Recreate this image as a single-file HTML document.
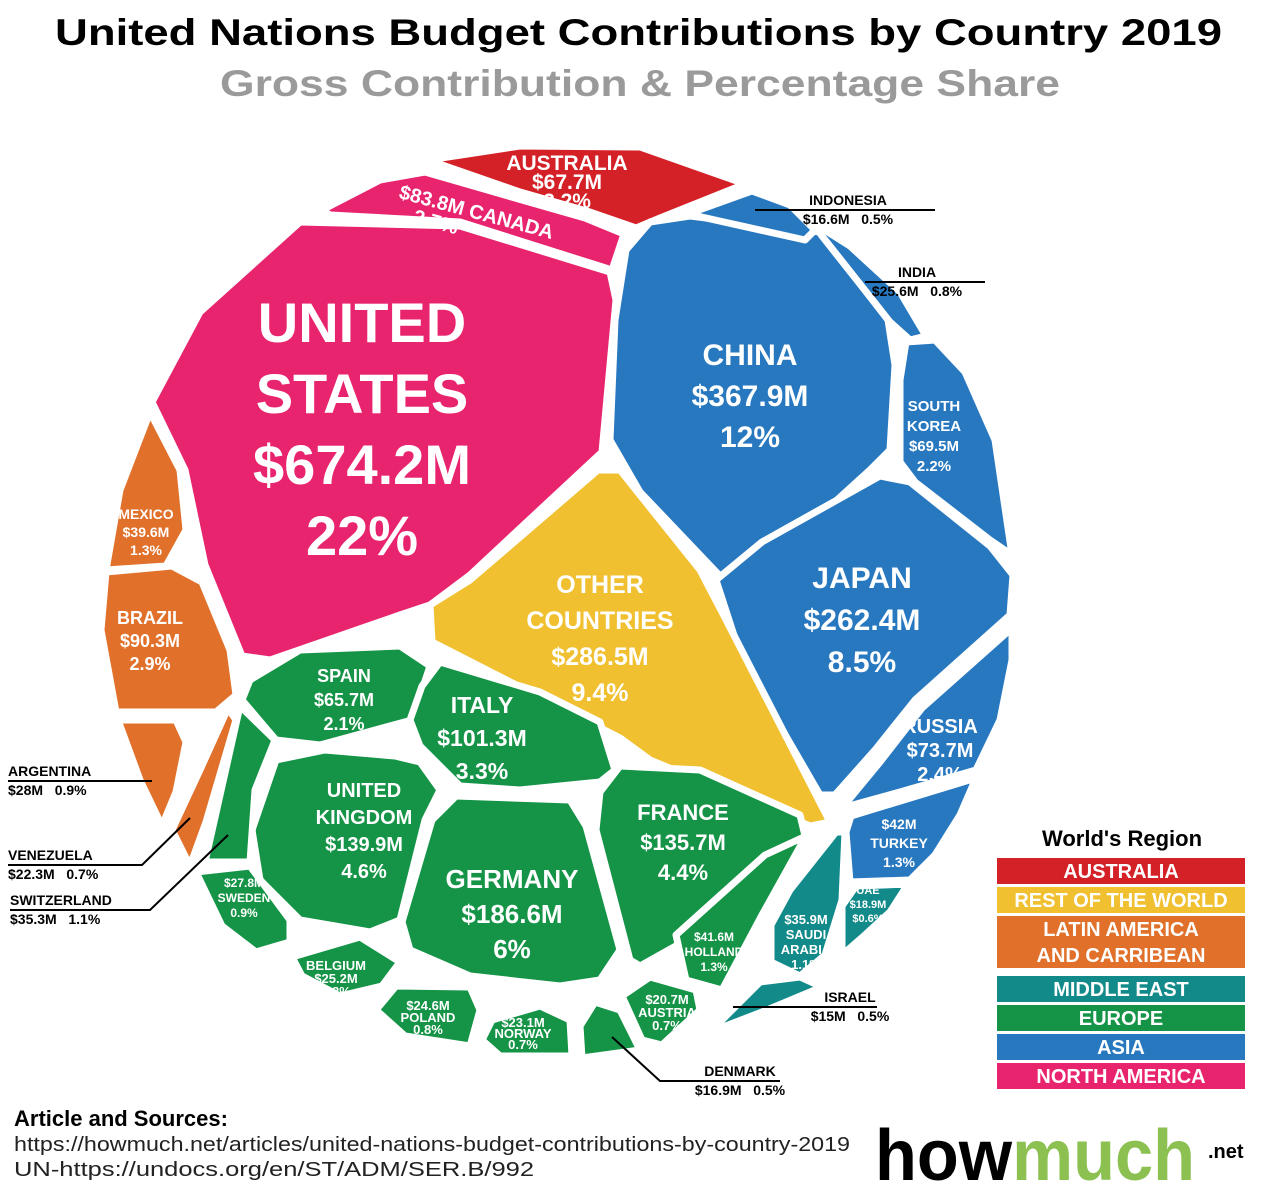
<!DOCTYPE html>
<html><head><meta charset="utf-8"><style>
body{margin:0;background:#fff;width:1280px;height:1197px;overflow:hidden;font-family:"Liberation Sans",sans-serif}
svg text{font-family:"Liberation Sans",sans-serif;font-weight:bold}
</style></head><body>
<svg id="chart" width="1280" height="1197" viewBox="0 0 1280 1197">
<text x="55" y="45" font-size="37" fill="#000" textLength="1167" lengthAdjust="spacingAndGlyphs">United Nations Budget Contributions by Country 2019</text>
<text x="220" y="96" font-size="37" fill="#9a9a9a" textLength="840" lengthAdjust="spacingAndGlyphs">Gross Contribution &amp; Percentage Share</text>
<g id="cells"></g><g id="labels"></g><g id="leaders"></g><g id="legend"></g>
<text x="14" y="1126" font-size="22" fill="#000">Article and Sources:</text>
<text x="14" y="1151" font-size="20" style="font-weight:normal" fill="#222" textLength="836" lengthAdjust="spacingAndGlyphs">https://howmuch.net/articles/united-nations-budget-contributions-by-country-2019</text>
<text x="14" y="1176" font-size="20" style="font-weight:normal" fill="#222" textLength="520" lengthAdjust="spacingAndGlyphs">UN-https://undocs.org/en/ST/ADM/SER.B/992</text>
<text x="875" y="1180" font-size="72" fill="#000" textLength="320" lengthAdjust="spacingAndGlyphs">how<tspan fill="#8cc152">much</tspan></text>
<text x="1208" y="1158" font-size="20" fill="#000">.net</text>
</svg>
<script>
const countries=["Australia","Canada","United States","China","Indonesia","India","South Korea","Japan","Russia","Other Countries","Spain","Italy","United Kingdom","Germany","France","Holland","Sweden","Switzerland","Belgium","Poland","Norway","Denmark","Austria","Saudi Arabia","UAE","Israel","Turkey","Mexico","Brazil","Argentina","Venezuela"];
const contributions=[67.7,83.8,674.2,367.9,16.6,25.6,69.5,262.4,73.7,286.5,65.7,101.3,139.9,186.6,135.7,41.6,27.8,35.3,25.2,24.6,23.1,16.9,20.7,35.9,18.9,15,42,39.6,90.3,28,22.3];
const shares=[2.2,2.7,22,12,0.5,0.8,2.2,8.5,2.4,9.4,2.1,3.3,4.6,6,4.4,1.3,0.9,1.1,0.8,0.8,0.7,0.5,0.7,1.1,0.6,0.5,1.3,1.3,2.9,0.9,0.7];
const regions=["AU","NA","NA","AS","AS","AS","AS","AS","AS","RW","EU","EU","EU","EU","EU","EU","EU","EU","EU","EU","EU","EU","EU","ME","ME","ME","AS","LA","LA","LA","LA"];
const legendLabels=["AUSTRALIA","REST OF THE WORLD","LATIN AMERICA|AND CARRIBEAN","MIDDLE EAST","EUROPE","ASIA","NORTH AMERICA"];
const legendKeys=["AU","RW","LA","ME","EU","AS","NA"];
const colors={AU:"#d42027",NA:"#e8246f",AS:"#2878c0",RW:"#f0c030",LA:"#e0702a",ME:"#138a8a",EU:"#159447"};
const shapes={
"Australia":"428,160 520,146 640,147 745,184 660,218 636,228 590,212 520,192",
"Canada":"322,210 380,180 425,172 515,198 585,218 624,234 612,270 460,222 330,215",
"United States":"152,402 200,312 300,222 460,226 610,272 616,300 602,452 470,575 430,605 400,615 270,660 242,656 205,565 185,470",
"China":"626,250 650,222 690,216 820,232 888,320 895,365 890,450 870,470 760,570 720,576 640,492 610,440 615,320",
"Indonesia":"688,214 752,191 790,205 815,230 805,240",
"India":"822,236 812,222 850,246 900,292 926,336 910,340 890,322",
"South Korea":"906,342 935,340 965,372 995,440 1012,555 990,540 915,482 900,462 900,380",
"Japan":"716,580 762,542 880,476 910,482 990,546 1013,575 1010,615 915,700 875,750 835,795 820,795 742,660",
"Russia":"842,808 880,762 922,708 1012,628 1012,660 1000,720 976,770 900,792",
"Other Countries":"598,470 620,470 700,570 722,612 830,822 810,826 650,760 620,738 432,642 430,605 470,580",
"Spain":"250,680 300,650 400,646 430,666 412,720 320,745 276,740 242,700",
"Italy":"422,686 440,662 540,692 600,722 615,770 600,782 520,790 460,786 420,746 410,720",
"United Kingdom":"276,760 325,750 395,756 420,762 440,790 425,820 400,920 370,932 300,920 260,880 252,830",
"Germany":"432,820 456,796 570,800 586,826 620,950 600,980 560,986 470,976 410,950 402,922",
"France":"600,792 620,766 700,770 800,815 806,840 722,920 640,966 630,960 596,830",
"Holland":"676,935 765,855 806,836 762,915 722,990 686,980",
"Sweden":"196,872 250,866 290,920 290,942 256,952 222,926",
"Switzerland":"205,862 240,706 275,740 255,790 250,862",
"Belgium":"292,957 360,937 400,962 382,986 340,996 302,976",
"Poland":"376,1010 396,986 470,987 480,1010 470,1046 405,1036",
"Norway":"482,1040 492,1020 540,1006 570,1020 572,1056 500,1056",
"Denmark":"580,1026 595,1002 620,1010 640,1050 582,1058",
"Austria":"622,996 650,977 696,990 700,1010 662,1045 642,1040",
"Saudi Arabia":"771,925 790,890 836,832 845,832 842,900 825,955 800,976 771,962",
"UAE":"842,906 856,886 908,884 890,912 865,935 842,955",
"Israel":"710,1032 760,982 800,977 822,987 762,1012",
"Turkey":"846,832 851,816 976,778 960,815 935,855 910,880 850,882",
"Mexico":"106,570 120,490 150,412 180,470 186,530 166,566",
"Brazil":"101,630 106,572 172,566 202,582 230,650 236,695 216,712 116,712",
"Argentina":"118,720 176,720 186,742 176,792 162,826 140,780",
"Venezuela":"172,830 200,770 228,708 236,720 206,822 190,866"};
const NS="http://www.w3.org/2000/svg";
const cells=document.getElementById("cells");
countries.forEach((c,i)=>{
 const p=document.createElementNS(NS,"polygon");
 p.setAttribute("points",shapes[c]);
 p.setAttribute("fill",colors[regions[i]]);
 p.setAttribute("stroke","#fff");p.setAttribute("stroke-width","7");p.setAttribute("stroke-linejoin","round");
 
 
 cells.appendChild(p);
});
const fmt=v=>"$"+v+"M", pf=v=>v+"%";
const inside=[
[0,567,170,21,19,["AUSTRALIA","V","P"]],
[2,362,342,56,71,["UNITED","STATES","V","P"]],
[3,750,365,30,41,["CHINA","V","P"]],
[6,934,411,15,20,["SOUTH","KOREA","V","P"]],
[7,862,588,30,42,["JAPAN","V","P"]],
[8,940,733,20,24,["RUSSIA","V","P"]],
[9,600,593,25,36,["OTHER","COUNTRIES","V","P"]],
[10,344,682,18,24,["SPAIN","V","P"]],
[11,482,713,23,33,["ITALY","V","P"]],
[12,364,797,20,27,["UNITED","KINGDOM","V","P"]],
[13,512,888,26,35,["GERMANY","V","P"]],
[14,683,820,22,30,["FRANCE","V","P"]],
[15,714,941,12,15,["V","HOLLAND","P"]],
[16,244,887,12,15,["V","SWEDEN","P"]],
[18,336,970,13,13,["BELGIUM","V","P"]],
[19,428,1010,13,12,["V","POLAND","P"]],
[20,523,1027,13,11,["V","NORWAY","P"]],
[22,667,1004,13,13,["V","AUSTRIA","P"]],
[23,806,924,13,15,["V","SAUDI","ARABIA","P"]],
[24,868,894,11,14,["UAE","V","U"]],
[26,899,829,14,19,["V","TURKEY","P"]],
[27,146,519,14,18,["MEXICO","V","P"]],
[28,150,624,18,23,["BRAZIL","V","P"]]];
const lab=document.getElementById("labels");
inside.forEach(([i,x,y,fs,lh,lines])=>{
 const t=document.createElementNS(NS,"text");
 t.setAttribute("x",x);t.setAttribute("y",y);t.setAttribute("font-size",fs);
 t.setAttribute("fill","#fff");t.setAttribute("text-anchor","middle");
 
 
 lines.forEach((l,k)=>{const s=document.createElementNS(NS,"tspan");s.setAttribute("x",x);s.setAttribute("dy",k?lh:0);
  s.textContent=l==="V"?fmt(contributions[i]):l==="P"?pf(shares[i]):l==="U"?"$"+shares[i]+"%":l;t.appendChild(s);});
 lab.appendChild(t);
});
{const t=document.createElementNS(NS,"text");t.setAttribute("font-size",20);t.setAttribute("fill","#fff");
 t.setAttribute("transform","translate(398,198) rotate(15)");
 
 t.innerHTML='<tspan x="0" y="0">'+fmt(contributions[1])+' CANADA</tspan><tspan x="20" y="20">'+pf(shares[1])+'</tspan>';lab.appendChild(t);}
const outs=[
[4,848,205,"middle",[[755,210],[935,210]]],
[5,917,277,"middle",[[865,282],[985,282]]],
[29,8,776,"start",[[8,781],[152,781]]],
[30,8,860,"start",[[8,865],[142,865],[190,818]]],
[17,10,905,"start",[[10,910],[150,910],[228,835]]],
[25,850,1002,"middle",[[733,1007],[877,1007]]],
[21,740,1076,"middle",[[612,1037],[660,1081],[780,1081]]]];
const ld=document.getElementById("leaders");
outs.forEach(([i,x,y,anc,pts])=>{
 const pl=document.createElementNS(NS,"polyline");pl.setAttribute("points",pts.map(p=>p.join(",")).join(" "));
 pl.setAttribute("fill","none");pl.setAttribute("stroke","#000");pl.setAttribute("stroke-width","2");
 ld.appendChild(pl);
 const t=document.createElementNS(NS,"text");t.setAttribute("font-size",14);t.setAttribute("fill","#000");t.setAttribute("text-anchor",anc);
 
 t.innerHTML='<tspan x="'+x+'" y="'+y+'">'+countries[i].toUpperCase()+'</tspan><tspan x="'+x+'" y="'+(y+19)+'">'+fmt(contributions[i])+'&#160;&#160;&#160;'+pf(shares[i])+'</tspan>';
 ld.appendChild(t);
});
const lg=document.getElementById("legend");
{const t=document.createElementNS(NS,"text");t.setAttribute("x",1122);t.setAttribute("y",846);t.setAttribute("font-size",22);t.setAttribute("text-anchor","middle");t.textContent="World's Region";
 lg.appendChild(t);}
let ly=858;
legendLabels.forEach((L,k)=>{
 const lines=L.split("|");const h=lines.length>1?52:26;
 const r=document.createElementNS(NS,"rect");r.setAttribute("x",997);r.setAttribute("y",ly);r.setAttribute("width",248);r.setAttribute("height",h);r.setAttribute("fill",colors[legendKeys[k]]);
 lg.appendChild(r);
 lines.forEach((s,j)=>{const t=document.createElementNS(NS,"text");t.setAttribute("x",1121);t.setAttribute("y",ly+20+j*26);t.setAttribute("font-size",20);t.setAttribute("fill","#fff");t.setAttribute("text-anchor","middle");t.textContent=s;
  lg.appendChild(t);});
 ly+=h+(k===2?8:3);
});
</script>
</body></html>
